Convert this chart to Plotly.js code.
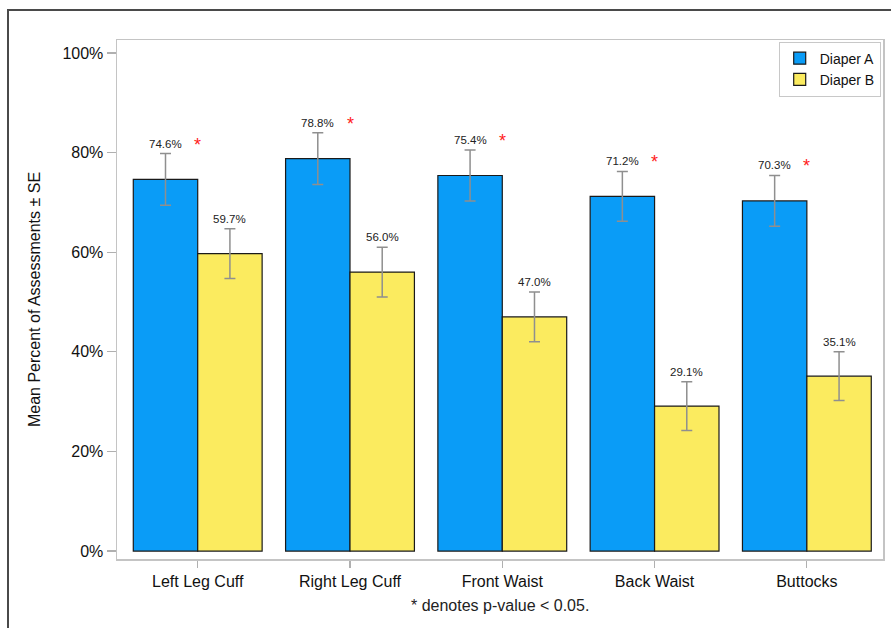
<!DOCTYPE html>
<html>
<head>
<meta charset="utf-8">
<script src="https://cdn.plot.ly/plotly-3.0.1.min.js"></script>
<style>
  html, body { margin: 0; padding: 0; background: #fff; }
  #wrap { position: relative; width: 891px; height: 628px; }
  #chart { width: 891px; height: 628px; }
  #frame {
    position: absolute; left: 7px; top: 9px; right: 0; bottom: 0;
    border-left: 2px solid #4a4a4a; border-top: 2px solid #4a4a4a;
    pointer-events: none;
  }
</style>
</head>
<body>
<div id="wrap">
  <div id="chart"></div>
  <div id="frame"></div>
</div>
<script>
// Regions assessed
const regions = ['Left Leg Cuff', 'Right Leg Cuff', 'Front Waist', 'Back Waist', 'Buttocks'];

// Mean percent of assessments per diaper
const diaperA = [74.6, 78.8, 75.4, 71.2, 70.3];
const diaperB = [59.7, 56.0, 47.0, 29.1, 35.1];

// Standard errors
const seA = [5.2, 5.2, 5.1, 5.0, 5.1];
const seB = [5.0, 5.0, 5.0, 4.9, 4.9];

// Significant difference (p < 0.05) per region
const significant = [true, true, true, true, true];

const yTickVals = [0, 20, 40, 60, 80, 100];
const yTickText = ['0%', '20%', '40%', '60%', '80%', '100%'];

const BAR_GAP = 0.154;
const barHalf = (1 - BAR_GAP) / 4;   // centre offset of each bar in a pair
const FONT = 'Liberation Sans, Arial, sans-serif';

const errStyle = { type: 'data', visible: true, color: '#8f8f8f', thickness: 1.5, width: 5.5 };

const traces = [
  {
    type: 'bar', name: 'Diaper A', x: regions, y: diaperA,
    marker: { color: '#0a9cf7', line: { color: '#1a1a1a', width: 1.2 } },
    error_y: Object.assign({ array: seA }, errStyle),
    hoverinfo: 'none'
  },
  {
    type: 'bar', name: 'Diaper B', x: regions, y: diaperB,
    marker: { color: '#fbeb5f', line: { color: '#1a1a1a', width: 1.2 } },
    error_y: Object.assign({ array: seB }, errStyle),
    hoverinfo: 'none'
  }
];

const annotations = [];
regions.forEach((r, i) => {
  annotations.push({
    x: i - barHalf, y: diaperA[i] + seA[i], xref: 'x', yref: 'y',
    text: diaperA[i].toFixed(1) + '%', showarrow: false,
    yanchor: 'bottom', yshift: 2,
    font: { family: FONT, size: 11.5, color: '#222' }
  });
  annotations.push({
    x: i + barHalf, y: diaperB[i] + seB[i], xref: 'x', yref: 'y',
    text: diaperB[i].toFixed(1) + '%', showarrow: false,
    yanchor: 'bottom', yshift: 2,
    font: { family: FONT, size: 11.5, color: '#222' }
  });
  if (significant[i]) {
    annotations.push({
      x: i, y: diaperA[i] + seA[i], xref: 'x', yref: 'y',
      text: '*', showarrow: false, xshift: 0,
      yanchor: 'bottom', yshift: -3,
      font: { family: FONT, size: 18, color: '#ff1a1a' }
    });
  }
});

annotations.push({
  xref: 'paper', yref: 'paper', x: 0.5, y: 0, yshift: -46,
  xanchor: 'center', yanchor: 'middle', showarrow: false,
  text: '* denotes p-value < 0.05.',
  font: { family: FONT, size: 16, color: '#222' }
});

const layout = {
  width: 891, height: 628,
  margin: { l: 117, r: 8, t: 40, b: 69 },
  paper_bgcolor: '#fff', plot_bgcolor: '#fff',
  barmode: 'group', bargap: BAR_GAP, bargroupgap: 0,
  font: { family: FONT, size: 16, color: '#222' },
  showlegend: true,
  legend: {
    x: 0.997, y: 0.997, xanchor: 'right', yanchor: 'top',
    bgcolor: '#fff', bordercolor: '#c8c8c8', borderwidth: 1,
    font: { family: FONT, size: 14, color: '#111' },
    tracegroupgap: 0, itemwidth: 30
  },
  xaxis: {
    range: [-0.53, 4.5], showgrid: false, zeroline: false,
    showline: true, linecolor: '#c4c4c4', linewidth: 1.5, mirror: true,
    ticks: 'outside', ticklen: 7, tickcolor: '#b0b0b0', tickwidth: 1.2,
    tickfont: { family: FONT, size: 16, color: '#111' },
    fixedrange: true
  },
  yaxis: {
    range: [-1.6, 102.6], showgrid: false, zeroline: false,
    showline: true, linecolor: '#c4c4c4', linewidth: 1.5, mirror: true,
    tickmode: 'array', tickvals: yTickVals, ticktext: yTickText,
    ticks: 'outside', ticklen: 9, tickcolor: '#b0b0b0', tickwidth: 1.2,
    tickfont: { family: FONT, size: 16, color: '#111' },
    title: { text: 'Mean Percent of Assessments ± SE', standoff: 18,
             font: { family: FONT, size: 16, color: '#111' } },
    fixedrange: true
  },
  annotations: annotations
};

Plotly.newPlot('chart', traces, layout, { displayModeBar: false, staticPlot: true });
</script>
</body>
</html>
